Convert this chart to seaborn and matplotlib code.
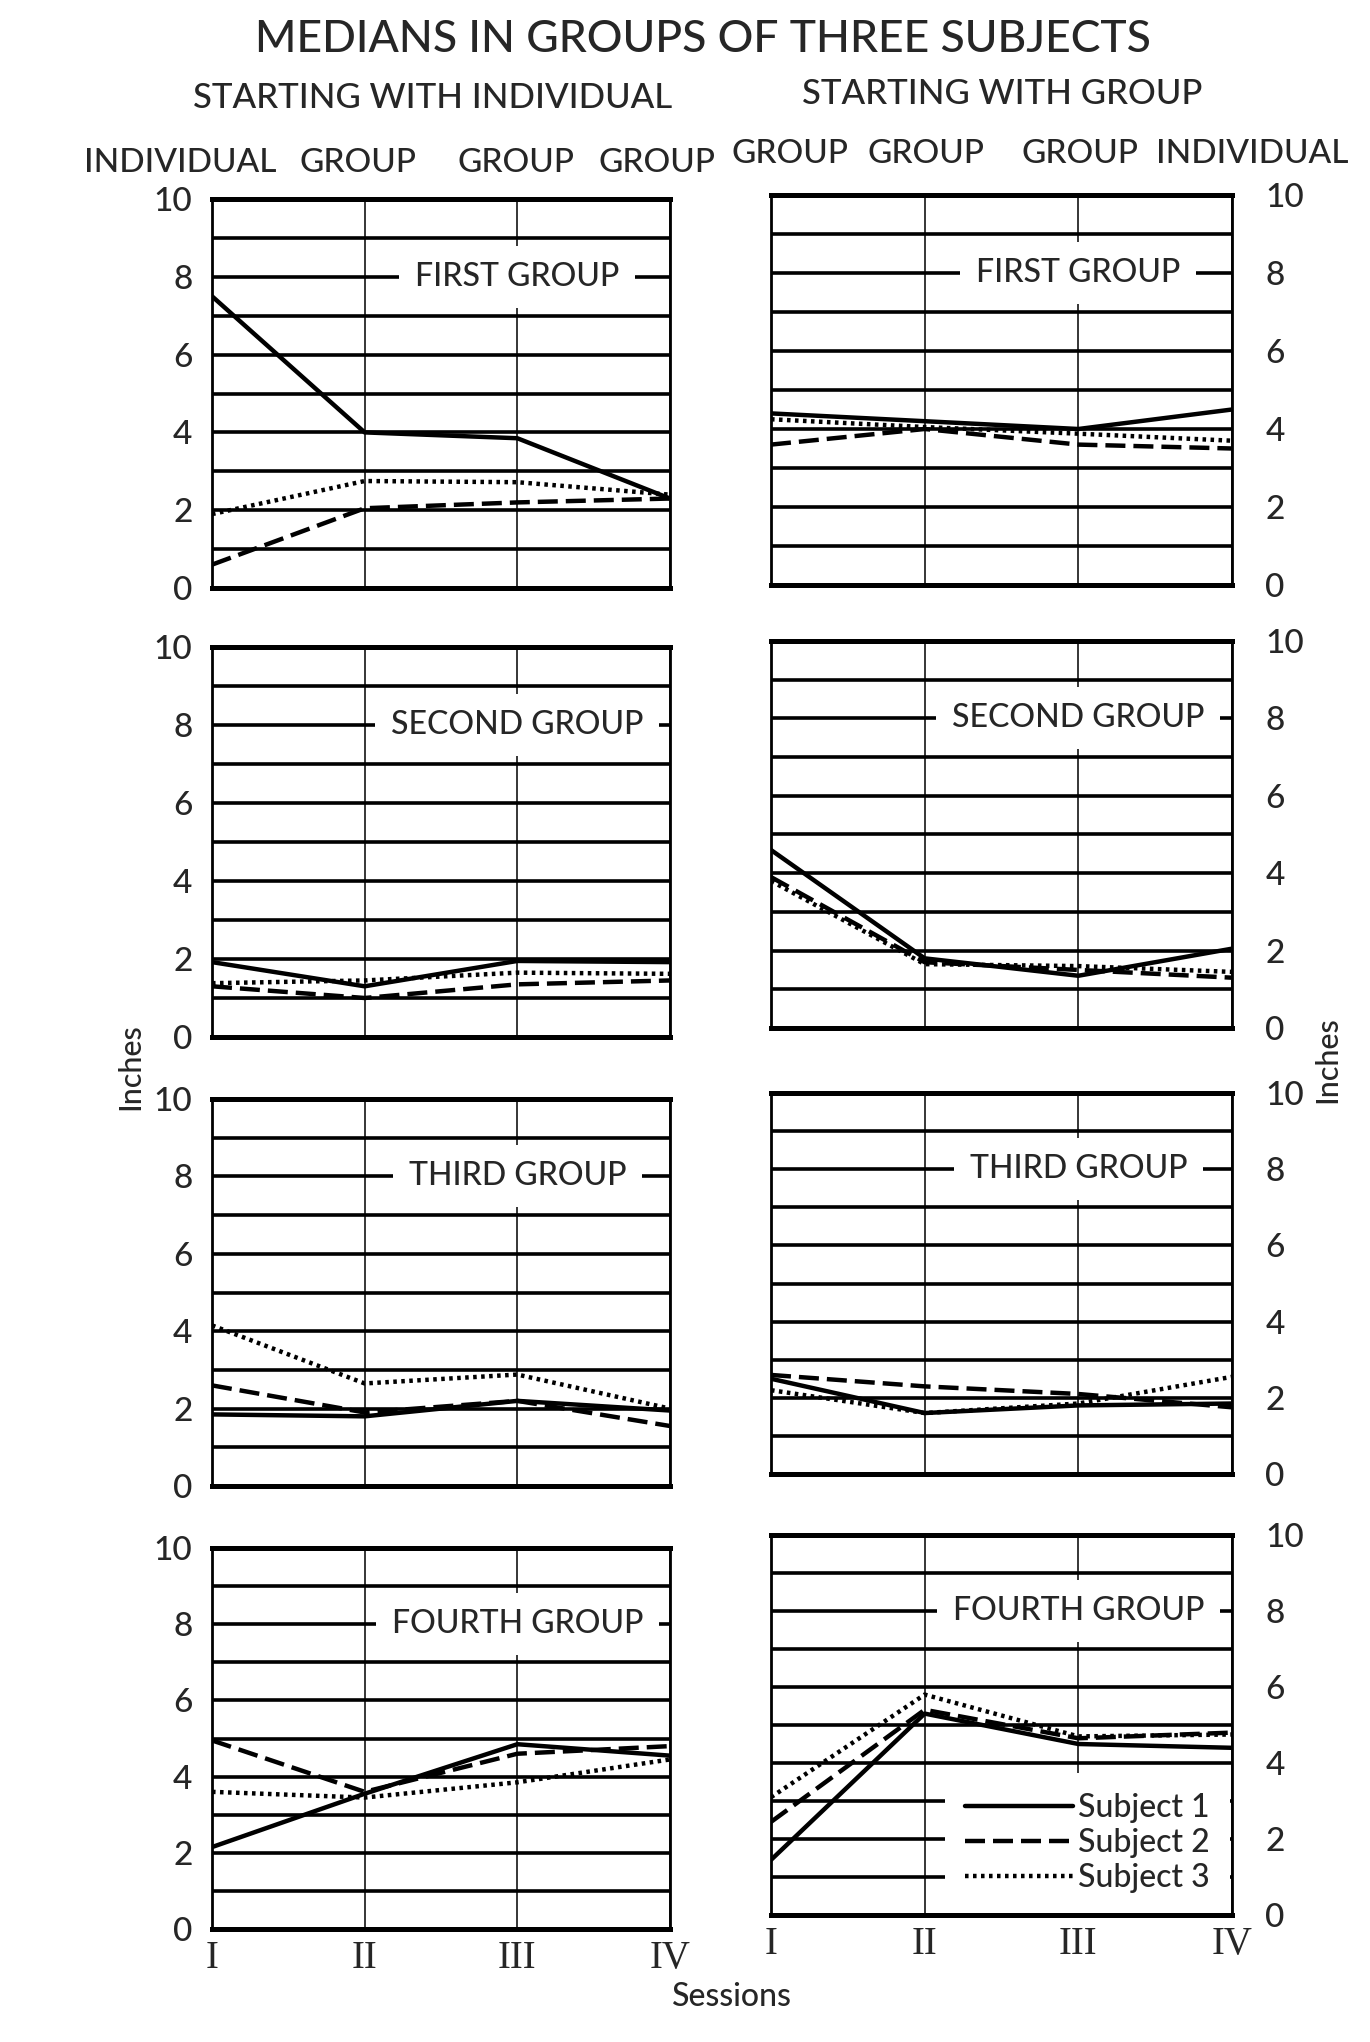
import numpy as np
import pandas as pd
import matplotlib
matplotlib.use('Agg')
import matplotlib.pyplot as plt
import seaborn as sns

# ---- data (inches, sessions I..IV) ----
sessions = ['I', 'II', 'III', 'IV']
subjects = ['Subject 1', 'Subject 2', 'Subject 3']
group_names = ['FIRST GROUP', 'SECOND GROUP', 'THIRD GROUP', 'FOURTH GROUP']

# starting with individual (left column): rows = subject 1, 2, 3
ind_first = [[7.5, 4.0, 3.85, 2.3], [0.6, 2.05, 2.2, 2.3], [1.9, 2.75, 2.72, 2.4]]
ind_second = [[1.92, 1.3, 1.95, 1.92], [1.3, 1.0, 1.35, 1.45], [1.38, 1.45, 1.65, 1.62]]
ind_third = [[1.85, 1.8, 2.2, 1.95], [2.6, 1.9, 2.2, 1.55], [4.15, 2.65, 2.88, 2.0]]
ind_fourth = [[2.15, 3.55, 4.85, 4.55], [4.95, 3.6, 4.6, 4.8], [3.6, 3.45, 3.85, 4.45]]

# starting with group (right column)
grp_first = [[4.4, 4.2, 4.0, 4.5], [3.6, 4.0, 3.6, 3.5], [4.25, 4.05, 3.88, 3.7]]
grp_second = [[4.6, 1.8, 1.35, 2.05], [3.9, 1.7, 1.5, 1.3], [3.8, 1.65, 1.6, 1.45]]
grp_third = [[2.5, 1.6, 1.8, 1.85], [2.6, 2.3, 2.1, 1.75], [2.2, 1.6, 1.85, 2.55]]
grp_fourth = [[1.45, 5.3, 4.5, 4.4], [2.45, 5.4, 4.65, 4.8], [3.1, 5.8, 4.7, 4.75]]

left_header = ['INDIVIDUAL', 'GROUP', 'GROUP', 'GROUP']
right_header = ['GROUP', 'GROUP', 'GROUP', 'INDIVIDUAL']

ind_panels = [ind_first, ind_second, ind_third, ind_fourth]
grp_panels = [grp_first, grp_second, grp_third, grp_fourth]


def to_long(panel):
    rows = []
    for s, vals in zip(subjects, panel):
        for i, v in enumerate(vals):
            rows.append({'session': i, 'inches': v, 'subject': s})
    return pd.DataFrame(rows)


sns.set_style('white')
plt.rcParams['font.family'] = ['Lato', 'DejaVu Sans']
plt.rcParams['font.weight'] = 'medium'

W, H = 1370, 2042
fig = plt.figure(figsize=(W / 100, H / 100), dpi=100)


def rect(x0, x1, y0, y1):
    return [x0 / W, 1 - y1 / H, (x1 - x0) / W, (y1 - y0) / H]


# panel boxes in pixels (the scan is slightly skewed, so each column has its own)
left_rows = [(199, 588), (647, 1037), (1099, 1486), (1548, 1929)]
right_rows = [(195, 585), (641, 1028), (1093, 1474), (1535, 1915)]
left_x = (212, 670)
right_x = (771, 1232)

dash_map = {'Subject 1': '', 'Subject 2': (4.5, 1.8), 'Subject 3': (0.8, 1.0)}
lw = 3.2
lab_fs = 23

for side, panels, rows, xs in [('left', ind_panels, left_rows, left_x),
                               ('right', grp_panels, right_rows, right_x)]:
    for r in range(4):
        ax = fig.add_axes(rect(xs[0], xs[1], rows[r][0], rows[r][1]))
        df = to_long(panels[r])
        last = (side == 'right' and r == 3)
        sns.lineplot(data=df, x='session', y='inches', style='subject',
                     dashes=dash_map, color='black', lw=lw, ax=ax,
                     legend='full' if last else False, zorder=3)
        ax.set_xlim(0, 3)
        ax.set_ylim(0, 10)
        ax.set_xticks(range(4))
        ax.set_yticks(range(0, 11, 2))
        ax.set_yticks(range(1, 11, 2), minor=True)
        ax.set_axisbelow(True)
        ax.grid(axis='y', which='both', color='black', lw=2.6)
        ax.grid(axis='x', which='major', color='black', lw=1.1)
        ax.tick_params(which='both', length=0)
        ax.set_xlabel('')
        ax.set_ylabel('')
        for sp in ['top', 'bottom']:
            ax.spines[sp].set_linewidth(3.6)
            ax.spines[sp].set_color('black')
        for sp in ['left', 'right']:
            ax.spines[sp].set_linewidth(2.0)
            ax.spines[sp].set_color('black')
        if side == 'right':
            ax.yaxis.tick_right()
            ax.tick_params(axis='y', pad=24, labelsize=24)
        else:
            ax.tick_params(axis='y', pad=14, labelsize=24)
        if r == 3:
            ax.set_xticklabels(sessions, family='Liberation Serif', fontsize=28)
            ax.tick_params(axis='x', pad=8)
        else:
            ax.set_xticklabels([])
        ax.text(2.0, 8, group_names[r], ha='center', va='center', fontsize=lab_fs,
                zorder=2, bbox=dict(boxstyle='square,pad=0.5', fc='white', ec='none'))
        if last:
            handles, labels = ax.get_legend_handles_labels()
            for h in handles:
                h.set_linewidth(lw)
                h.set_color('black')
            leg = ax.legend(handles, labels, loc='lower right', bbox_to_anchor=(0.995, 0.006),
                            fontsize=lab_fs, frameon=True, fancybox=False,
                            handlelength=3.4, handletextpad=0.15, borderpad=0.62,
                            borderaxespad=0, labelspacing=0.16)
            leg.get_frame().set_facecolor('white')
            leg.get_frame().set_edgecolor('none')
            leg.get_frame().set_alpha(1)

# titles and headers
fig.text(703 / W, 1 - 40 / H, 'MEDIANS IN GROUPS OF THREE SUBJECTS',
         ha='center', va='center', fontsize=32)
fig.text(433 / W, 1 - 98 / H, 'STARTING WITH INDIVIDUAL', ha='center', va='center', fontsize=25)
fig.text(1002 / W, 1 - 94 / H, 'STARTING WITH GROUP', ha='center', va='center', fontsize=25)

left_hx = [180, 358, 516, 657]
right_hx = [790, 926, 1080, 1252]
for lab, x in zip(left_header, left_hx):
    fig.text(x / W, 1 - 163 / H, lab, ha='center', va='center', fontsize=24)
for lab, x in zip(right_header, right_hx):
    fig.text(x / W, 1 - 154 / H, lab, ha='center', va='center', fontsize=24)

fig.text(732 / W, 1 - 1997 / H, 'Sessions', ha='center', va='center', fontsize=23)
fig.text(130 / W, 1 - 1067 / H, 'Inches', ha='center', va='center', fontsize=22, rotation=90)
fig.text(1327 / W, 1 - 1060 / H, 'Inches', ha='center', va='center', fontsize=22, rotation=90)

fig.savefig('out.png', dpi=100, facecolor='white')
